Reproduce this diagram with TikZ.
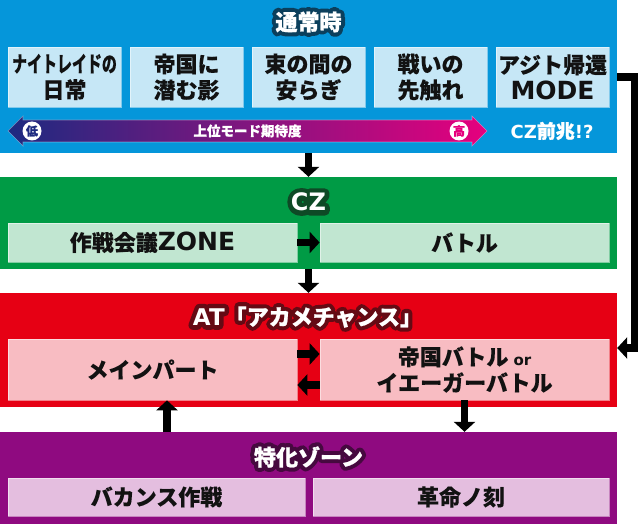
\documentclass[tikz,border=0pt]{standalone}
\usepackage{fontspec}
\setmainfont{Noto Sans CJK JP}[BoldFeatures={FakeBold=1}]
\newfontfamily\latinfont{DejaVu Sans}
\newfontfamily\edgefont{Noto Sans CJK JP Bold}[FakeBold=40]
\newfontfamily\edgelatin{DejaVu Sans Bold}[FakeBold=40]
\usepackage{graphicx}
\usetikzlibrary{arrows.meta}
\definecolor{normalbg}{HTML}{0596DA}
\definecolor{normalsub}{HTML}{C6E7F6}
\definecolor{normaledge}{HTML}{0B3F5C}
\definecolor{czbg}{HTML}{009B45}
\definecolor{czsub}{HTML}{C1E6D1}
\definecolor{czedge}{HTML}{0E4A26}
\definecolor{atbg}{HTML}{E60014}
\definecolor{atsub}{HTML}{F8BCC2}
\definecolor{atedge}{HTML}{650A14}
\definecolor{zonebg}{HTML}{8F0A80}
\definecolor{zonesub}{HTML}{E4BEDF}
\definecolor{zoneedge}{HTML}{46093F}
\definecolor{lowc}{HTML}{1D2A80}
\definecolor{highc}{HTML}{E6007E}
\newcommand{\lat}[2]{{\latinfont\fontsize{#1}{#1}\selectfont #2}}
\newcommand{\titlenode}[4]{%
  \draw (#1) node [text=#3, line join=round, font=\edgefont\fontsize{22}{22}\selectfont\let\latinfont\edgelatin] {#4};
  \draw (#1) node (#2) [title, text=white] {#4};
}

\begin{document}
\begin{tikzpicture}[x=1pt,y=-1pt]
\tikzstyle{every node}=[inner sep=0pt]
\tikzstyle{section}=[rectangle, minimum width=617pt]
\tikzstyle{stage}=[rectangle, draw=white, draw opacity=.5, line width=.7pt, align=center, text=black!93, font=\bfseries\fontsize{22}{26}\selectfont]
\tikzstyle{title}=[font=\bfseries\fontsize{22}{22}\selectfont]
\tikzstyle{flow}=[line width=7.5pt, -{Triangle[width=21pt,length=10pt]}]
\fill[white, use as bounding box] (0,0) rectangle (640,524);
\draw (308.5,76.5) node (normal) [section, fill=normalbg, minimum height=153pt] {};
\draw (308.5,223) node (cz) [section, fill=czbg, minimum height=92pt] {};
\draw (308.5,350) node (atmode) [section, fill=atbg, minimum height=114pt] {};
\draw (308.5,478) node (zone) [section, fill=zonebg, minimum height=92pt] {};
\titlenode{308.5,22}{normaltitle}{normaledge}{通常時}
\titlenode{308.5,202}{cztitle}{czedge}{\lat{24}{CZ}}
\titlenode{307.5,317}{attitle}{atedge}{\lat{23}{AT}「アカメチャンス」}
\titlenode{308.5,457}{zonetitle}{zoneedge}{特化ゾーン}
\draw (64.5,77) node (nightraid) [stage, fill=normalsub, minimum width=113pt, minimum height=60pt] {\scalebox{.68}[1]{ナイトレイドの}\\日常};
\draw (186.5,77) node (empire) [stage, fill=normalsub, minimum width=113pt, minimum height=60pt] {帝国に\\潜む影};
\draw (308.5,77) node (respite) [stage, fill=normalsub, minimum width=113pt, minimum height=60pt] {束の間の\\安らぎ};
\draw (430.5,77) node (prelude) [stage, fill=normalsub, minimum width=113pt, minimum height=60pt] {戦いの\\先触れ};
\draw (552.5,77) node (hideout) [stage, fill=normalsub, minimum width=113pt, minimum height=60pt] {アジト帰還\\\lat{25}{MODE}};
\shadedraw[left color=lowc, right color=highc, draw=white, draw opacity=.4, line width=.6pt] (8,131) -- (23,116) -- (23,120) -- (472,120) -- (472,116) -- (487,131) -- (472,146) -- (472,142) -- (23,142) -- (23,146) -- cycle;
\draw (32,131) node (low) [circle, fill=white, minimum size=19pt, text=lowc, font=\bfseries\fontsize{12}{12}\selectfont] {低};
\draw (459,131) node (high) [circle, fill=white, minimum size=19pt, text=highc, font=\bfseries\fontsize{12}{12}\selectfont] {高};
\draw (247.5,131) node (expect) [text=white, font=\bfseries\fontsize{13.5}{13.5}\selectfont] {上位モード期待度};
\draw (552,131) node (omen) [text=white, font=\bfseries\fontsize{19}{19}\selectfont] {\lat{18}{CZ}前兆\lat{18}{!?}};
\draw (152.5,242.5) node (council) [stage, fill=czsub, minimum width=289pt, minimum height=39pt] {作戦会議\lat{25}{ZONE}};
\draw (464.5,242.5) node (czbattle) [stage, fill=czsub, minimum width=289pt, minimum height=39pt] {バトル};
\draw (152.5,369.5) node (mainpart) [stage, fill=atsub, minimum width=289pt, minimum height=61pt] {メインパート};
\draw (464.5,369.5) node (empirebattle) [stage, fill=atsub, minimum width=289pt, minimum height=61pt] {帝国バトル \lat{15}{or}\\イエーガーバトル};
\draw (156.5,497) node (vacation) [stage, fill=zonesub, minimum width=297pt, minimum height=38pt] {バカンス作戦};
\draw (461,497) node (revolution) [stage, fill=zonesub, minimum width=296pt, minimum height=38pt] {革命ノ刻};
\draw[flow] (normal.south) -- (cz.north);
\draw[flow] (council.east) -- (czbattle.west);
\draw[flow] (cz.south) -- (atmode.north);
\draw[flow] ([yshift=15.5pt]mainpart.east) -- ([yshift=15.5pt]empirebattle.west);
\draw[flow] ([yshift=-15.5pt]empirebattle.west) -- ([yshift=-15.5pt]mainpart.east);
\coordinate (rise) at (167,432);
\draw[flow] (rise) -- (rise |- mainpart.south);
\draw[flow] (empirebattle.south) -- (empirebattle.south |- zone.north);
\coordinate (bend) at (634.5,348);
\draw[flow, line join=miter] (hideout.east -| normal.east) -| (bend) -- (bend -| atmode.east);
\end{tikzpicture}
\end{document}
